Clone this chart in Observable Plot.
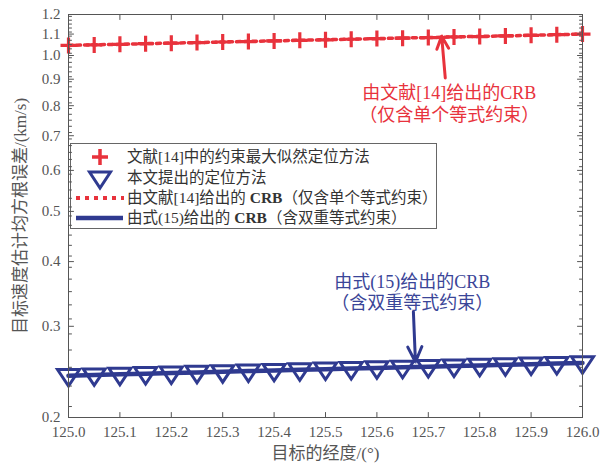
<!DOCTYPE html>
<html>
<head>
<meta charset="utf-8">
<script src="https://cdn.jsdelivr.net/npm/d3@7"></script>
<script src="https://cdn.jsdelivr.net/npm/@observablehq/plot@0.6"></script>
<style>
  html, body { margin: 0; padding: 0; background: #fff; }
</style>
</head>
<body>
<div id="chart"></div>
<script>
// Target longitude (degrees)
const lon = [125.00, 125.05, 125.10, 125.15, 125.20, 125.25, 125.30, 125.35, 125.40, 125.45, 125.50,
             125.55, 125.60, 125.65, 125.70, 125.75, 125.80, 125.85, 125.90, 125.95, 126.00];

// Velocity RMSE (km/s): constrained ML method of ref. [14]
const rmseRef14 = [1.046, 1.048, 1.051, 1.054, 1.056, 1.059, 1.062, 1.064, 1.067, 1.070, 1.072,
                   1.075, 1.078, 1.080, 1.083, 1.086, 1.088, 1.091, 1.094, 1.097, 1.100];
// CRB from ref. [14] (single equality constraint)
const crbRef14 = [1.046, 1.049, 1.051, 1.054, 1.057, 1.059, 1.062, 1.065, 1.067, 1.070, 1.073,
                  1.075, 1.078, 1.081, 1.083, 1.086, 1.089, 1.091, 1.094, 1.097, 1.100];
// Velocity RMSE (km/s): proposed method
const rmseProposed = [0.2410, 0.2417, 0.2424, 0.2431, 0.2438, 0.2445, 0.2452, 0.2459, 0.2466, 0.2473, 0.2480,
                      0.2487, 0.2494, 0.2501, 0.2508, 0.2515, 0.2522, 0.2529, 0.2536, 0.2543, 0.2551];
// CRB from Eq. (15) (double equality constraint)
const crbEq15 = [0.2409, 0.2416, 0.2423, 0.2430, 0.2437, 0.2444, 0.2451, 0.2458, 0.2465, 0.2472, 0.2479,
                 0.2486, 0.2493, 0.2500, 0.2507, 0.2514, 0.2521, 0.2528, 0.2535, 0.2542, 0.2549];

const xTicks = [125.0, 125.1, 125.2, 125.3, 125.4, 125.5, 125.6, 125.7, 125.8, 125.9, 126.0];
const yTicks = [0.2, 0.3, 0.4, 0.5, 0.6, 0.7, 0.8, 0.9, 1.0, 1.1, 1.2];
const yMinor = d3.range(21, 120, 2).map(v => v / 100).filter(v => Math.round(v * 100) % 10 !== 0);

// Callout notes: text anchor and arrow (tail -> head) in data units
const noteText = ["由文献[14]给出的CRB\n（仅含单个等式约束）", "由式(15)给出的CRB\n（含双重等式约束）"];
const noteX = [125.741, 125.669];
const noteY = [0.809, 0.350];
const arrowX1 = [125.733, 125.671];
const arrowY1 = [0.905, 0.320];
const arrowX2 = [125.726, 125.675];
const arrowY2 = [1.090, 0.256];

const legendLabels = [
  "文献[14]中的约束最大似然定位方法",
  "本文提出的定位方法",
  "由文献[14]给出的 <b>CRB</b>（仅含单个等式约束）",
  "由式(15)给出的 <b>CRB</b>（含双重等式约束）"
];

const RED = "#e8323c";
const BLUE = "#2f3a90";
const AXIS = "#555";

const pts = lon.map((x, i) => ({x, a: rmseRef14[i], b: crbRef14[i], c: rmseProposed[i], d: crbEq15[i]}));
const notes = noteText.map((t, i) => ({t, x: noteX[i], y: noteY[i], x1: arrowX1[i], y1: arrowY1[i], x2: arrowX2[i], y2: arrowY2[i]}));

// Inward tick segment drawn by vector marks
const tickShape = {draw(ctx, l) { ctx.moveTo(0, 0); ctx.lineTo(0, -l); }};
// Marker shapes
const plusSym = {draw(ctx) { const r = 8; ctx.moveTo(-r, 0); ctx.lineTo(r, 0); ctx.moveTo(0, -r); ctx.lineTo(0, r); }};
const triDown = {draw(ctx) { ctx.moveTo(-11, -6); ctx.lineTo(11, -6); ctx.lineTo(0, 10.5); ctx.closePath(); }};

const tick = (data, anchor, rotate, length, isX) => (isX ? Plot.vectorX : Plot.vectorY)(data, {
  frameAnchor: anchor, rotate, length, anchor: "start", shape: tickShape, stroke: AXIS, strokeWidth: 1
});

const chart = Plot.plot({
  width: 609,
  height: 465,
  marginLeft: 68,
  marginRight: 27,
  marginTop: 14,
  marginBottom: 48,
  x: {domain: [125, 126]},
  y: {type: "log", domain: [0.2, 1.2]},
  style: {fontFamily: "'Liberation Serif', 'Noto Sans CJK SC', serif", fontSize: "15px", color: "#555", background: "#fff"},
  marks: [
    Plot.axisX({ticks: xTicks, tickSize: 0, tickPadding: 9, tickFormat: d3.format(".1f"), label: null}),
    Plot.axisY({ticks: yTicks, tickSize: 0, tickPadding: 8, tickFormat: d3.format(".1f"), label: null}),
    Plot.text(["目标的经度/(°)"], {frameAnchor: "bottom", dy: 36, textAnchor: "middle", lineAnchor: "middle", fontSize: 17, fill: "#555"}),
    Plot.text(["目标速度估计均方根误差/(km/s)"], {frameAnchor: "left", dx: -48, rotate: -90, textAnchor: "middle", lineAnchor: "middle", fontSize: 17, fill: "#555"}),
    Plot.line(pts, {x: "x", y: "d", stroke: BLUE, strokeWidth: 4.5}),
    Plot.line(pts, {x: "x", y: "b", stroke: RED, strokeWidth: 3.5, strokeDasharray: "4,4"}),
    Plot.dot(pts, {x: "x", y: "a", symbol: plusSym, stroke: RED, strokeWidth: 3.2, fill: "none"}),
    Plot.dot(pts, {x: "x", y: "c", symbol: triDown, stroke: BLUE, strokeWidth: 3, fill: "none"}),
    Plot.arrow(notes, {x1: "x1", y1: "y1", x2: "x2", y2: "y2", stroke: (d, i) => i === 0 ? RED : BLUE, strokeWidth: 3, headLength: 14, headAngle: 50}),
    Plot.text(notes.slice(0, 1), {x: "x", y: "y", text: "t", fill: RED, fontSize: 18, lineHeight: 1.2}),
    Plot.text(notes.slice(1), {x: "x", y: "y", text: "t", fill: "#3a4598", fontSize: 18, lineHeight: 1.2}),
    Plot.frame({stroke: AXIS, strokeWidth: 1}),
    tick(yTicks, "left", 90, 5, false),
    tick(yMinor, "left", 90, 3, false),
    tick(yTicks, "right", -90, 5, false),
    tick(yMinor, "right", -90, 3, false),
    tick(xTicks, "bottom", 0, 5, true),
    tick(xTicks, "top", 180, 5, true)
  ]
});

// Legend box inside the plot area
const svg = d3.select(chart);
const lg = svg.append("g")
  .attr("font-family", "'Liberation Serif', 'Noto Sans CJK SC', serif")
  .attr("text-anchor", "start");
lg.append("rect").attr("x", 70.5).attr("y", 143.5).attr("width", 366).attr("height", 85)
  .attr("fill", "#fff").attr("stroke", "#666").attr("stroke-width", 1);
const rowY = [157, 178, 198, 218];
const sx = 100;
lg.append("path").attr("transform", `translate(${sx},${rowY[0]})`)
  .attr("d", "M-8,0H8M0,-8V8").attr("stroke", RED).attr("stroke-width", 3.5).attr("fill", "none");
lg.append("path").attr("transform", `translate(${sx},${rowY[1]})`)
  .attr("d", "M-10.5,-6H10.5L0,10Z").attr("stroke", BLUE).attr("stroke-width", 3).attr("fill", "none");
lg.append("line").attr("x1", 76).attr("x2", 124).attr("y1", rowY[2]).attr("y2", rowY[2])
  .attr("stroke", RED).attr("stroke-width", 4).attr("stroke-dasharray", "4,5");
lg.append("line").attr("x1", 76).attr("x2", 123).attr("y1", rowY[3]).attr("y2", rowY[3])
  .attr("stroke", BLUE).attr("stroke-width", 4.5);
legendLabels.forEach((t, i) => {
  const txt = lg.append("text").attr("x", 127).attr("y", rowY[i]).attr("dy", "0.35em")
    .attr("text-anchor", "start").attr("font-size", 15.5).attr("fill", "#333");
  t.split(/(<b>.*?<\/b>)/).forEach(part => {
    if (!part) return;
    const bold = part.startsWith("<b>");
    txt.append("tspan").attr("font-weight", bold ? "bold" : null).text(part.replace(/<\/?b>/g, ""));
  });
});
// keep the inward axis ticks on top of the legend box
svg.selectAll('g[aria-label="vector"]').raise();

document.getElementById("chart").appendChild(chart);
</script>
</body>
</html>
